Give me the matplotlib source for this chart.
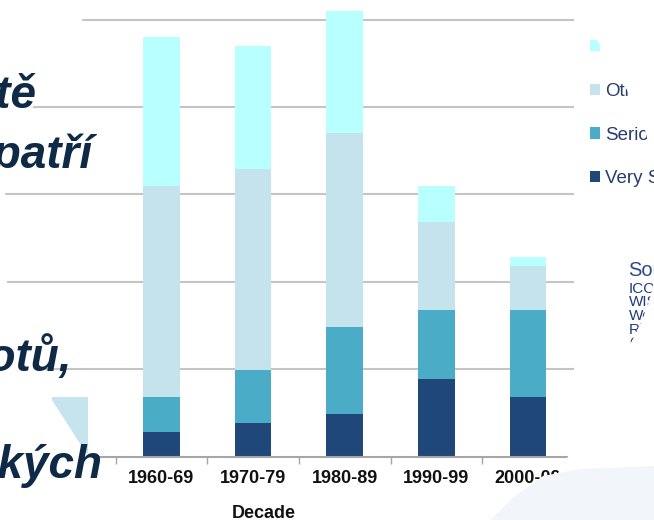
import matplotlib.pyplot as plt
import numpy as np
from matplotlib.patches import Polygon

# stacked bars, values (gridline step = 10)
decades = ['1960-69', '1970-79', '1980-89', '1990-99', '2000-09']
very_serious = [2.8, 3.8, 4.9, 8.9, 6.8]
serious = [4.0, 6.1, 9.9, 7.9, 10.0]
other = [24.1, 23.0, 22.2, 10.0, 5.0]
unknown = [17.1, 14.1, 14.0, 4.1, 1.0]

series = [very_serious, serious, other, unknown]
labels = ['Very Serious', 'Serious', 'Other', 'Unknown']
colors = ['#1f477a', '#4aacc6', '#c5e3ec', '#b8ffff']

W, H = 654, 520
fig = plt.figure(figsize=(6.54, 5.2), dpi=100)

# main chart
ax = fig.add_axes([0, 1 - 456.5 / H, 574 / W, 456.5 / H])
x = np.arange(len(decades))
bottom = np.zeros(len(decades))
handles = []
for vals, col, lab in zip(series, colors, labels):
    b = ax.bar(x, vals, 0.4, bottom=bottom, color=col, label=lab, zorder=2)
    handles.append(b)
    bottom += np.array(vals)

ax.set_xlim(-1.76, 4.5)
ax.set_ylim(0, 456.5 / 8.74)
ax.set_yticks([10, 20, 30, 40, 50])
ax.yaxis.grid(True, color='#c4c4c4', lw=1.5, zorder=0)
ax.tick_params(axis='y', length=0, labelleft=False)
for s in ['left', 'right', 'top']:
    ax.spines[s].set_visible(False)
ax.spines['bottom'].set_color('#a6a6a6')
ax.spines['bottom'].set_linewidth(1.5)
ax.set_xticks(x)
ax.set_xticklabels(decades, fontsize=13, fontweight='bold', family='Liberation Sans', color='#111111')
ax.set_xticks(np.arange(-0.5, 4, 1), minor=True)
ax.tick_params(axis='x', which='major', length=0, pad=9.5)
ax.tick_params(axis='x', which='minor', length=5, color='#a6a6a6', width=1)

leg = ax.legend(handles[::-1], labels[::-1], loc='upper left',
                bbox_to_anchor=(590 / W, 1 - 39 / H), bbox_transform=fig.transFigure,
                frameon=False, handlelength=0.55, handleheight=0.55,
                handletextpad=0.25, labelspacing=1.43, borderpad=0, borderaxespad=0,
                prop={'family': 'Liberation Sans', 'size': 13.5})
for t in leg.get_texts():
    t.set_color('#283c6e')

fig.text(264 / W, 1 - 518 / H, 'Decade', ha='center', va='baseline', fontsize=13,
         fontweight='bold', family='Liberation Sans', color='#111111')

# source note (partly hidden by the slide shape)
fig.text(628 / W, 1 - 276 / H, 'Source:', fontsize=14.5, family='Liberation Sans',
         color='#2e4a8a', va='baseline')
src_lines = ['ICOLD,', 'WISE,', 'Web', 'Rivers', 'Other']
for i, s in enumerate(src_lines):
    fig.text(629 / W, 1 - (293 + 13.5 * i) / H, s, fontsize=11, family='Liberation Sans',
             color='#1f3d7a', va='baseline')

# overlay in pixel coordinates for slide shapes and text
ov = fig.add_axes([0, 0, 1, 1], zorder=10)
ov.set_xlim(0, W)
ov.set_ylim(H, 0)
ov.axis('off')
ov.patch.set_alpha(0)

left_mask = [(0, 0), (98, 0), (82, 20), (55, 60), (33, 107), (15, 150), (5, 195), (3, 240),
             (7, 282), (18, 325), (35, 369), (52, 400), (70, 428), (92, 458), (96, 470),
             (96, 520), (0, 520)]
right_mask = [(573, 0), (597, 40), (612, 65), (627, 90), (645, 130), (654, 165), (660, 200),
              (660, 240), (656, 270), (652, 290), (648, 305), (642, 320), (634, 337),
              (626, 352), (600, 400), (575, 445), (555, 478), (530, 520), (660, 520), (660, 0)]
ov.add_patch(Polygon(left_mask, closed=True, color='white', lw=0))
ov.add_patch(Polygon(right_mask, closed=True, color='white', lw=0))
ov.add_patch(Polygon([(52, 397), (88, 397), (88, 453), (86, 453), (70, 428), (52, 400)],
                     closed=True, color='#c6e4ee', lw=0))
ov.add_patch(Polygon([(490, 520), (515, 496), (543, 476), (580, 469), (654, 466), (654, 520)],
                     closed=True, color='#f2f6fb', lw=0))

txt = dict(fontsize=33, fontweight='bold', fontstyle='italic', family='Liberation Sans',
           color='#0e2a47', ha='right', va='baseline', zorder=5)
ov.text(36, 108, 've světě', **txt)
ov.text(92, 168, 'mezi patří', **txt)
ov.text(72, 371, 'lidských životů,', **txt)
ov.text(102, 478, 'technických', **txt)

fig.savefig('out.png', dpi=100)
